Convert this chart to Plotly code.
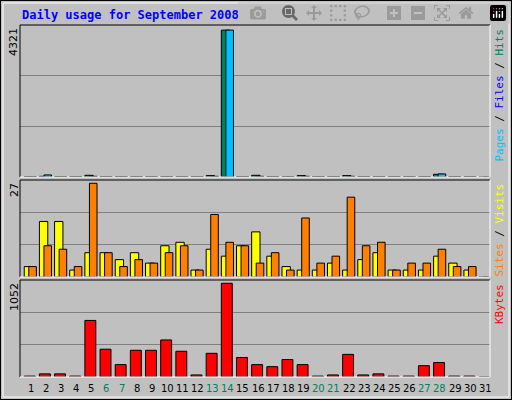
import plotly.graph_objects as go

days = list(range(1, 32))
hits = [10, 20, 10, 10, 50, 10, 10, 10, 10, 10, 10, 10, 40, 4321, 10, 50, 10, 10, 40, 10, 10, 40, 10, 10, 10, 10, 10, 80, 10, 10, 0]
pages = [10, 60, 10, 10, 20, 10, 10, 10, 10, 10, 10, 10, 20, 4321, 10, 20, 10, 10, 20, 10, 10, 20, 10, 10, 10, 10, 10, 90, 10, 10, 0]
visits = [3, 16, 16, 2, 7, 7, 5, 7, 4, 9, 10, 2, 8, 6, 9, 13, 6, 3, 2, 2, 4, 2, 5, 7, 2, 2, 2, 6, 4, 2, 0]
sites = [3, 9, 8, 3, 27, 7, 3, 5, 4, 7, 9, 2, 18, 10, 9, 4, 7, 2, 17, 4, 6, 23, 9, 10, 2, 4, 4, 8, 3, 3, 0]
kbytes = [10, 35, 35, 10, 635, 312, 139, 300, 300, 416, 289, 23, 266, 1052, 219, 139, 116, 196, 139, 10, 23, 254, 23, 35, 10, 10, 127, 162, 10, 10, 0]
weekend = {6, 7, 13, 14, 20, 21, 27, 28}

W, H = 512, 400
X0, X1 = 20, 490
panels = [(25, 177), (180, 277), (280, 377)]

def fx(p): return p / W
def fy(p): return 1 - p / H

fig = go.Figure()
line = dict(color="black", width=1)
fig.add_trace(go.Bar(x=days, y=hits, width=0.55, offset=-0.42, marker=dict(color="#00805c", line=line), xaxis="x", yaxis="y"))
fig.add_trace(go.Bar(x=days, y=pages, width=0.5, offset=-0.12, marker=dict(color="#00c0ff", line=line), xaxis="x", yaxis="y"))
fig.add_trace(go.Bar(x=days, y=visits, width=0.55, offset=-0.42, marker=dict(color="#ffff00", line=line), xaxis="x2", yaxis="y2"))
fig.add_trace(go.Bar(x=days, y=sites, width=0.5, offset=-0.12, marker=dict(color="#ff8000", line=line), xaxis="x2", yaxis="y2"))
fig.add_trace(go.Bar(x=days, y=kbytes, width=0.72, offset=-0.42, marker=dict(color="#ff0000", line=line), xaxis="x3", yaxis="y3"))

maxes = [max(hits), max(sites), max(kbytes)]
lay = dict(width=W, height=H, margin=dict(l=0, r=0, t=0, b=0), paper_bgcolor="#c0c0c0",
           plot_bgcolor="#c0c0c0", showlegend=False, barmode="overlay",
           font=dict(family="DejaVu Sans Mono", size=11, color="black"))
for i, (t, b) in enumerate(panels):
    s = "" if i == 0 else str(i + 1)
    m = maxes[i]
    lay["xaxis" + s] = dict(domain=[fx(X0), fx(X1)], range=[0.3, 31.3], anchor="y" + s,
                           showticklabels=False, showgrid=False, zeroline=False, ticks="")
    lay["yaxis" + s] = dict(domain=[fy(b), fy(t)], range=[0, m * 1.035], anchor="x" + s,
                           tickvals=[m / 3 * 1.035, m * 2 / 3 * 1.035], showticklabels=False,
                           gridcolor="#808080", gridwidth=1, zeroline=False)
fig.update_layout(**lay)

shapes = [dict(type="rect", xref="paper", yref="paper", x0=0, x1=1, y0=0, y1=1, line=dict(color="black", width=2)),
          dict(type="rect", xref="paper", yref="paper", x0=fx(3), x1=fx(509), y0=fy(397), y1=fy(3), line=dict(color="white", width=1))]
for t, b in panels:
    shapes += [
        dict(type="line", xref="paper", yref="paper", x0=fx(X0), x1=fx(X1), y0=fy(t), y1=fy(t), line=dict(color="black", width=1)),
        dict(type="line", xref="paper", yref="paper", x0=fx(X0), x1=fx(X0), y0=fy(t), y1=fy(b), line=dict(color="black", width=1)),
        dict(type="line", xref="paper", yref="paper", x0=fx(X0), x1=fx(X1), y0=fy(b), y1=fy(b), line=dict(color="white", width=1)),
        dict(type="line", xref="paper", yref="paper", x0=fx(X1), x1=fx(X1), y0=fy(t), y1=fy(b), line=dict(color="white", width=1)),
    ]
fig.update_layout(shapes=shapes)

ann = [dict(text="<b>Daily usage for September 2008</b>", x=fx(20), y=fy(15), xref="paper", yref="paper",
            xanchor="left", yanchor="middle", showarrow=False, font=dict(color="#0000ff", size=12))]
for (t, b), m in zip(panels, maxes):
    ann.append(dict(text=str(m), x=fx(14), y=fy(t + 1), xref="paper", yref="paper", textangle=-90,
                    xanchor="center", yanchor="top", showarrow=False, font=dict(size=11, family="DejaVu Sans")))
side = [
    '<span style="color:#00c0ff">Pages</span> / <span style="color:#0000ff">Files</span> / <span style="color:#00805c">Hits</span>',
    '<span style="color:#ff8000">Sites</span> / <span style="color:#ffff00">Visits</span>',
    '<span style="color:#ff0000">KBytes</span>',
]
for (t, b), s in zip(panels, side):
    ann.append(dict(text=s, x=fx(499), y=fy(t + 2), xref="paper", yref="paper", textangle=-90,
                    xanchor="center", yanchor="top", showarrow=False, font=dict(size=11)))
for d in days:
    ann.append(dict(text=str(d), x=d, y=fy(388), xref="x3", yref="paper", showarrow=False,
                    xanchor="center", yanchor="middle",
                    font=dict(size=10, family="DejaVu Sans", color="#00805c" if d in weekend else "black")))
fig.update_layout(annotations=ann)
fig.write_html("out.html", post_script="document.body.style.margin='0';document.body.style.overflow='hidden';")
